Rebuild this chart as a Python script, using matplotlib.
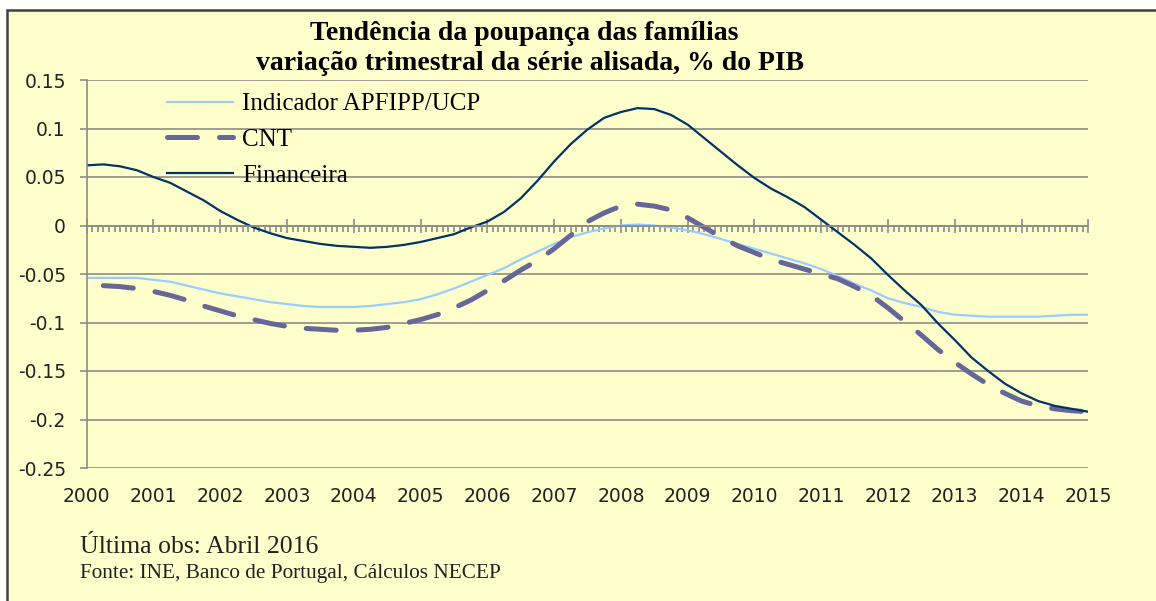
import matplotlib
matplotlib.use('Agg')
import matplotlib.pyplot as plt
from matplotlib.ticker import MultipleLocator, FuncFormatter
from matplotlib.patches import Rectangle
import numpy as np

# quarterly points
t_fin = [2000 + q / 4 for q in range(61)]
financeira = [0.062, 0.063, 0.061, 0.057, 0.050, 0.044, 0.035, 0.026, 0.015, 0.006,
              -0.002, -0.008, -0.013, -0.016, -0.019, -0.021, -0.022, -0.023, -0.022, -0.020,
              -0.017, -0.013, -0.009, -0.002, 0.004, 0.014, 0.028, 0.046, 0.066, 0.084,
              0.099, 0.111, 0.117, 0.121, 0.120, 0.114, 0.104, 0.090, 0.076, 0.062,
              0.049, 0.038, 0.029, 0.019, 0.006, -0.007, -0.020, -0.034, -0.051, -0.067,
              -0.082, -0.101, -0.118, -0.136, -0.150, -0.163, -0.173, -0.181, -0.186, -0.189,
              -0.192]
indicador = [-0.054, -0.054, -0.054, -0.054, -0.056, -0.058, -0.062, -0.066, -0.070, -0.073,
             -0.076, -0.079, -0.081, -0.083, -0.084, -0.084, -0.084, -0.083, -0.081, -0.079,
             -0.076, -0.071, -0.065, -0.058, -0.051, -0.044, -0.035, -0.027, -0.019, -0.012,
             -0.007, -0.003, 0.000, 0.001, 0.000, -0.002, -0.005, -0.009, -0.014, -0.019,
             -0.024, -0.029, -0.034, -0.039, -0.045, -0.052, -0.060, -0.067, -0.075, -0.080,
             -0.084, -0.089, -0.092, -0.093, -0.094, -0.094, -0.094, -0.094, -0.093, -0.092,
             -0.092]
t_cnt = [2000.25 + q / 4 for q in range(60)]
cnt = [-0.062, -0.063, -0.065, -0.068, -0.072, -0.077, -0.083, -0.088, -0.093,
       -0.097, -0.101, -0.104, -0.106, -0.107, -0.108, -0.108, -0.107, -0.105, -0.101,
       -0.097, -0.092, -0.085, -0.077, -0.067, -0.057, -0.046, -0.036, -0.024, -0.010,
       0.004, 0.013, 0.020, 0.022, 0.020, 0.016, 0.008, -0.002, -0.012, -0.021,
       -0.028, -0.035, -0.040, -0.045, -0.050, -0.055, -0.063, -0.072, -0.085, -0.099,
       -0.113, -0.128, -0.141, -0.153, -0.164, -0.173, -0.181, -0.186, -0.189, -0.191,
       -0.192]

years = list(range(2000, 2016))
yticks = [-0.25, -0.2, -0.15, -0.1, -0.05, 0, 0.05, 0.1, 0.15]

bg = '#FFFFCC'
grey = '#8c8c8c'
serif = 'Liberation Serif'

fig = plt.figure(figsize=(11.56, 6.01), dpi=100, facecolor='white')
fig.patches.append(Rectangle((7 / 1156, -0.05), 1.1, 1 - 10 / 601 + 0.05, transform=fig.transFigure,
                             facecolor=bg, edgecolor='#404040', lw=1.8, zorder=-10))

ax = fig.add_axes([86.7 / 1156, 1 - 468 / 601, (1088.3 - 86.7) / 1156, 388 / 601])
ax.set_facecolor('none')

ax.plot(t_fin, indicador, color='#99CCFF', lw=1.6, label='Indicador APFIPP/UCP')
ax.plot(t_cnt, cnt, color='#666699', lw=3.6, dashes=(6, 4.4), dash_capstyle='round',
        label='CNT')
ax.plot(t_fin, financeira, color='#003366', lw=1.6, label='Financeira')

ax.set_xlim(2000, 2015)
ax.set_ylim(-0.25, 0.15)
ax.set_yticks(yticks)
ax.yaxis.set_major_formatter(FuncFormatter(lambda v, p: '{:g}'.format(round(v, 2))))
ax.yaxis.grid(True, color=grey, lw=1.2)
ax.set_axisbelow(True)

for s in ['top', 'right']:
    ax.spines[s].set_visible(False)
ax.spines['left'].set_color(grey)
ax.spines['left'].set_linewidth(1.2)
ax.spines['bottom'].set_position(('data', 0))
ax.spines['bottom'].set_color(grey)
ax.spines['bottom'].set_linewidth(1.2)

ax.set_xticks(years)
ax.xaxis.set_minor_locator(MultipleLocator(1 / 12))
ax.tick_params(axis='x', which='major', direction='inout', length=10, width=1.2, color=grey,
               labelbottom=False)
ax.tick_params(axis='x', which='minor', direction='out', length=4, width=1.2, color=grey)
ax.tick_params(axis='y', direction='out', length=5, width=1.2, color=grey, pad=10,
               labelsize=13.5, labelcolor='#222222')
for lbl in ax.get_yticklabels():
    lbl.set_family('DejaVu Sans')

sec = ax.secondary_xaxis('bottom')
sec.set_xticks(years)
sec.tick_params(length=0, pad=14, labelsize=13.5, labelcolor='#222222')
sec.spines['bottom'].set_visible(False)

leg = ax.legend(loc='upper left', bbox_to_anchor=(167 / 1156, 1 - 93 / 601),
                bbox_transform=fig.transFigure, frameon=False, borderpad=0, borderaxespad=0,
                handlelength=2.65, handletextpad=0.35, labelspacing=0.52,
                prop={'family': serif, 'size': 18})

fig.text(524 / 1156, 1 - 33 / 601, 'Tendência da poupança das famílias', ha='center', va='center',
         family=serif, weight='bold', size=20)
fig.text(530 / 1156, 1 - 63 / 601, 'variação trimestral da série alisada, % do PIB', ha='center',
         va='center', family=serif, weight='bold', size=20)

fig.text(80 / 1156, 1 - 553 / 601, 'Última obs: Abril 2016', ha='left', va='baseline',
         family=serif, size=18.5, color='#222222')
fig.text(80 / 1156, 1 - 578 / 601, 'Fonte: INE, Banco de Portugal, Cálculos NECEP', ha='left',
         va='baseline', family=serif, size=15.3, color='#222222')

fig.savefig('out.png', dpi=100, facecolor=fig.get_facecolor())
